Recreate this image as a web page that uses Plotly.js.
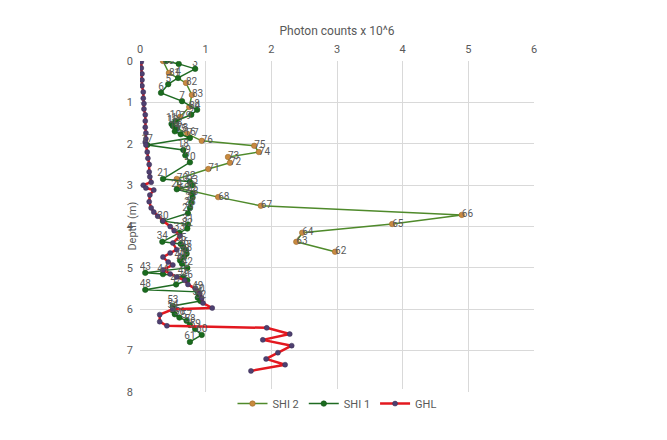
<!DOCTYPE html>
<html>
<head>
<meta charset="utf-8">
<script src="https://cdn.plot.ly/plotly-3.0.1.min.js"></script>
<style>
  html, body { margin: 0; padding: 0; background: #fff; }
  #chart { width: 667px; height: 440px; }
</style>
</head>
<body>
<div id="chart"></div>
<script>
// SHI 2 (samples 62-84)
var shi2Labels = [80, 81, 82, 83, 84, 79, 78, 77, 76, 75, 74, 73, 72, 71, 70, 69, 68, 67, 66, 65, 64, 63, 62]
var shi2Depth = [0.00, 0.29, 0.53, 0.82, 1.11, 1.35, 1.62, 1.76, 1.93, 2.05, 2.20, 2.32, 2.46, 2.61, 2.85, 3.07, 3.29, 3.50, 3.72, 3.94, 4.15, 4.37, 4.61]
var shi2Counts = [0.35, 0.44, 0.70, 0.79, 0.75, 0.61, 0.56, 0.72, 0.94, 1.74, 1.81, 1.34, 1.37, 1.04, 0.56, 0.59, 1.19, 1.84, 4.90, 3.84, 2.47, 2.38, 2.97]

// SHI 1 (samples 1-61)
var shi1Labels = []
for (var i = 1; i <= 61; i++) shi1Labels.push(i)
var shi1Depth = [0.00, 0.07, 0.19, 0.41, 0.56, 0.77, 0.97, 1.18, 1.30, 1.45,
                 1.52, 1.57, 1.63, 1.70, 1.77, 1.86, 2.03, 2.15, 2.28, 2.45,
                 2.85, 2.92, 3.00, 3.10, 3.20, 3.30, 3.42, 3.55, 3.68, 3.87,
                 3.95, 4.05, 4.15, 4.37, 4.42, 4.50, 4.58, 4.66, 4.74, 4.82,
                 4.90, 5.00, 5.12, 5.15, 5.22, 5.30, 5.40, 5.53, 5.58, 5.65,
                 5.72, 5.80, 5.92, 6.03, 6.12, 6.20, 6.28, 6.38, 6.48, 6.62, 6.79]
var shi1Counts = [0.40, 0.59, 0.84, 0.58, 0.43, 0.32, 0.64, 0.87, 0.78, 0.54,
                  0.48, 0.50, 0.56, 0.53, 0.62, 0.76, 0.11, 0.66, 0.69, 0.76,
                  0.35, 0.76, 0.80, 0.56, 0.80, 0.80, 0.78, 0.76, 0.73, 0.35,
                  0.73, 0.72, 0.60, 0.34, 0.62, 0.66, 0.70, 0.71, 0.67, 0.61,
                  0.64, 0.72, 0.08, 0.35, 0.66, 0.72, 0.55, 0.08, 0.88, 0.90,
                  0.88, 0.92, 0.50, 0.50, 0.53, 0.60, 0.71, 0.76, 0.84, 0.94, 0.76]

// GHL
var ghlDepth = [0.02, 0.17, 0.31, 0.46, 0.60, 0.75, 0.90, 1.03, 1.16, 1.30,
                1.45, 1.60, 1.74, 1.88, 1.96, 2.03, 2.20, 2.35, 2.50, 2.68,
                2.80, 2.93, 3.00, 3.07, 3.12, 3.24, 3.40, 3.55, 3.65, 3.75,
                3.86, 4.00, 4.10, 4.23, 4.40, 4.56, 4.64, 4.74, 4.86, 4.93,
                5.05, 5.15, 5.22, 5.30, 5.40, 5.50, 5.62, 5.73, 5.85, 5.97,
                6.00, 6.13, 6.30, 6.40, 6.45, 6.60, 6.74, 6.88, 7.05, 7.20, 7.34, 7.49]
var ghlCounts = [0.02, 0.02, 0.03, 0.03, 0.03, 0.05, 0.05, 0.06, 0.06, 0.08,
                 0.08, 0.08, 0.09, 0.09, 0.08, 0.09, 0.11, 0.12, 0.14, 0.14,
                 0.15, 0.17, 0.05, 0.09, 0.21, 0.15, 0.14, 0.17, 0.21, 0.27,
                 0.35, 0.46, 0.52, 0.61, 0.50, 0.56, 0.46, 0.35, 0.43, 0.50,
                 0.35, 0.46, 0.56, 0.68, 0.73, 0.84, 0.91, 0.94, 0.96, 1.10,
                 0.50, 0.30, 0.30, 0.41, 1.93, 2.28, 1.87, 2.31, 2.10, 1.92, 2.21, 1.69]

var labelFont = { family: "Roboto, Arial, sans-serif", size: 10, color: "#595959" }

var data = [
    {
        type: "scatter", mode: "lines+markers", name: "SHI 2",
        x: shi2Counts, y: shi2Depth,
        line: { color: "#4f8a2b", width: 1.5 },
        marker: { color: "#c88a3e", size: 5.5, line: { color: "#9c6a2a", width: 0.6 } }
    },
    {
        type: "scatter", mode: "lines+markers", name: "SHI 1",
        x: shi1Counts, y: shi1Depth,
        line: { color: "#1f6b22", width: 1.5 },
        marker: { color: "#1a6b1e", size: 5.5, line: { color: "#145417", width: 0.6 } }
    },
    {
        type: "scatter", mode: "lines+markers", name: "GHL",
        x: ghlCounts, y: ghlDepth,
        line: { color: "#e3181f", width: 2.5 },
        marker: { color: "#4e4070", size: 5, line: { color: "#3a2f55", width: 0.5 } }
    },
    {
        type: "scatter", mode: "text", showlegend: false, hoverinfo: "skip",
        x: shi2Counts, y: shi2Depth, text: shi2Labels,
        textposition: "middle right", textfont: labelFont
    },
    {
        type: "scatter", mode: "text", showlegend: false, hoverinfo: "skip",
        x: shi1Counts, y: shi1Depth, text: shi1Labels,
        textposition: "top center", textfont: labelFont
    }
]

var layout = {
    width: 667,
    height: 440,
    margin: { l: 140, r: 133, t: 61, b: 48 },
    paper_bgcolor: "#ffffff",
    plot_bgcolor: "#ffffff",
    font: { family: "Roboto, Arial, sans-serif", size: 11, color: "#595959" },
    showlegend: true,
    legend: {
        orientation: "h",
        x: 0.5, xanchor: "center",
        y: -0.035, yanchor: "middle",
        font: { size: 11, color: "#595959" },
        itemwidth: 30
    },
    xaxis: {
        side: "top",
        range: [0, 6],
        dtick: 1,
        showgrid: true,
        gridcolor: "#d9d9d9",
        zeroline: false,
        showline: false,
        ticks: "",
        ticklabelstandoff: 5,
        tickfont: { size: 11, color: "#595959" },
        title: { text: "Photon counts x 10^6", font: { size: 12, color: "#595959" }, standoff: 4 }
    },
    yaxis: {
        range: [8, 0],
        dtick: 1,
        showgrid: true,
        gridcolor: "#d9d9d9",
        zeroline: false,
        showline: false,
        ticks: "",
        ticklabelstandoff: 6,
        tickfont: { size: 11, color: "#595959" }
    },
    annotations: [
        {
            text: "Depth (m)", textangle: -90, showarrow: false,
            xref: "paper", yref: "paper", x: -0.02, y: 0.5,
            xanchor: "center", yanchor: "middle",
            font: { size: 11, color: "#595959" }
        }
    ]
}

Plotly.newPlot("chart", data, layout, { displayModeBar: false, staticPlot: true })
</script>
</body>
</html>
